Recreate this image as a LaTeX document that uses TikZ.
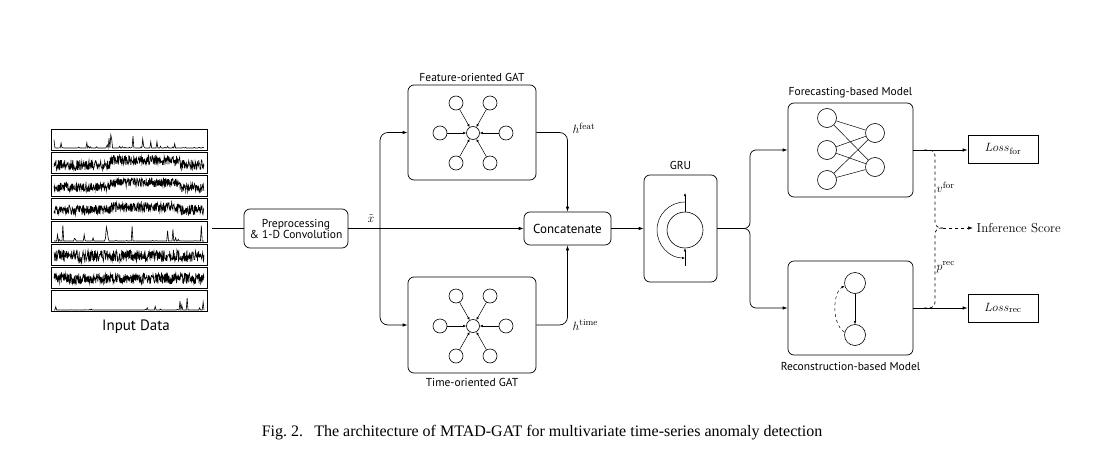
\documentclass[tikz,border=0pt]{standalone}
\usepackage{fontspec}
\newfontfamily\labfont{PT Sans}
\newfontfamily\capfont{Liberation Serif}
\usetikzlibrary{arrows.meta}
\begin{document}
\begin{tikzpicture}[x=1pt,y=-1pt,line width=0.7pt,
  box/.style={draw,rounded corners=6pt},
  lab/.style={font=\labfont\fontsize{11.5}{13}\selectfont},
  mlab/.style={font=\fontsize{13}{15}\selectfont},
  arr/.style={-{Latex[length=5pt,width=3.5pt]}},
  sarr/.style={line width=0.5pt,-{Latex[length=3pt,width=2.5pt]}},
  ring/.style={draw,circle,inner sep=0pt,minimum size=14pt,line width=0.6pt},
  bigring/.style={draw,circle,inner sep=0pt,minimum size=19pt,line width=0.6pt}]
\useasboundingbox (0,0) rectangle (1117,455);
% input data
\pgfmathsetseed{11}
\foreach \i/\base/\amp/\pw/\lift/\ns in {0/2/16/12/0/170,1/3/10/1/5/460,2/4/9/1/5/460,3/4/10/1/3/460,4/1/17/25/0/170,5/3/12/1/0/460,6/4/11/1/0/460,7/1/19/40/0/170}{
  \pgfmathsetmacro\ptop{129+23*\i}
  \pgfmathsetmacro\pbot{\ptop+21}
  \draw[line width=0.9pt] (51,\ptop) rectangle (207,\pbot);
  \draw[line width=0.6pt] plot[domain=54:204,samples=\ns]
    (\x,{\pbot-\base-\lift*(\x>110)*(\x<180)-\amp*rnd^\pw});
}
\node[lab,font=\labfont\fontsize{15}{17}\selectfont] (inlab) at (136,327) {Input Data};
\coordinate (inp) at (212,228.5);
% boxes
\node[box,lab,minimum width=104,minimum height=39,align=center] (pre) at (296,228.5)
  {Preprocessing\\[-2pt]\& 1-D Convolution};
\node[box,minimum width=128,minimum height=95] (feat) at (472,132.5) {};
\node[box,minimum width=128,minimum height=96] (time) at (472,325) {};
\node[box,lab,font=\labfont\fontsize{13}{15}\selectfont,minimum width=87,minimum height=33] (cat) at (567.5,228.5) {Concatenate};
\node[box,minimum width=73,minimum height=107] (gru) at (680.5,228.5) {};
\node[box,minimum width=125,minimum height=94] (fore) at (850.5,150) {};
\node[box,minimum width=125,minimum height=94] (rec) at (850.5,308) {};
\node[draw,mlab,minimum width=70,minimum height=28] (lossf) at (1003,149) {$Loss_{\mathrm{for}}$};
\node[draw,mlab,minimum width=70,minimum height=28] (lossr) at (1003,308) {$Loss_{\mathrm{rec}}$};
% titles
\node[lab] (tfeat) at (472,77) {Feature-oriented GAT};
\node[lab] (ttime) at (472,382) {Time-oriented GAT};
\node[lab] (tgru) at (680.5,165) {GRU};
\node[lab] (tfore) at (850.5,93) {Forecasting-based Model};
\node[lab] (trec) at (850.5,366) {Reconstruction-based Model};
% graph attention
\node[ring,minimum size=13pt] (fc) at (473,133) {};
\node[ring,minimum size=13pt] (tc) at (473,326) {};
\foreach \n/\dx/\dy in {1/-17/-30,2/17/-30,3/-33/0,4/33/0,5/-17/30,6/17/30}{
  \node[ring] (f\n) at ([shift={(\dx,\dy)}]fc) {};
  \draw[sarr] (f\n) -- (fc);
  \node[ring] (t\n) at ([shift={(\dx,\dy)}]tc) {};
  \draw[sarr] (t\n) -- (tc);
}
% gru cell
\node[draw,circle,inner sep=0pt,minimum size=36pt,line width=0.6pt] (cell) at (685,230) {};
\draw[sarr] (cell.north) -- (685,193);
\draw[sarr] (685,266) -- (cell.south);
\draw[sarr] (685,202) arc[start angle=270,end angle=90,radius=28];
% forecasting net
\foreach \n/\y in {1/118,2/150,3/180}
  \node[bigring] (a\n) at (827,\y) {};
\foreach \n/\y in {1/133,2/167}
  \node[bigring] (b\n) at (875,\y) {};
\foreach \i in {1,2,3}
  \foreach \j in {1,2}
    \draw[line width=0.5pt] (a\i) -- (b\j);
% reconstruction net
\node[draw,circle,inner sep=0pt,minimum size=21pt,line width=0.6pt] (r1) at (855,283) {};
\node[draw,circle,inner sep=0pt,minimum size=21pt,line width=0.6pt] (r2) at (855,335) {};
\draw[sarr] (r1) -- (r2);
\draw[sarr,dashed] (r2.165) .. controls (832,325) and (832,293) .. (r1.195);
% connectors
\draw (inp) -- (pre.west);
\draw[arr] (pre.east) -- (cat.west);
\node[mlab] (xt) at (371,219) {$\tilde{x}$};
\coordinate (br) at (380,228.5);
\draw[arr,rounded corners=8pt] (br) |- (feat.west);
\draw[arr,rounded corners=8pt] (br) |- (time.west);
\draw[arr,rounded corners=8pt] (feat.east) -| (cat.north);
\draw[arr,rounded corners=8pt] (time.east) -| (cat.south);
\node[mlab,anchor=west] (hf) at (569,128) {$h^{\mathrm{feat}}$};
\node[mlab,anchor=west] (ht) at (569,325) {$h^{\mathrm{time}}$};
\draw[arr] (cat.east) -- (gru.west);
\coordinate (split) at (750,228.5);
\draw[arr,rounded corners=6pt] (gru.east) -- (split) |- (fore.west);
\draw[arr,rounded corners=6pt] (gru.east) -- (split) |- (rec.west);
\draw[arr] (fore.east) -- (fore.east -| lossf.west);
\draw[arr] (rec.east) -- (lossr.west);
% inference score
\coordinate (vf) at (924,150);
\coordinate (pr) at (924,308);
\coordinate (tip) at (935,228);
\draw[dashed,rounded corners=6pt] (vf) -| (tip) -- ++(8,0);
\draw[dashed,rounded corners=6pt] (pr) -| (tip) -- ++(8,0);
\node[mlab,anchor=west] (inf) at (973,228) {Inference Score};
\draw[dashed,arr] ([xshift=8pt]tip) -- (inf.west);
\node[mlab,anchor=west] (vl) at (933,187) {$v^{\mathrm{for}}$};
\node[mlab,anchor=west] (pl) at (933,267) {$p^{\mathrm{rec}}$};
% caption
\node[font=\capfont\fontsize{16}{18}\selectfont] (cap) at (542,433)
  {Fig.~2.\hspace{0.7em}The architecture of MTAD-GAT for multivariate time-series anomaly detection};
\end{tikzpicture}
\end{document}
